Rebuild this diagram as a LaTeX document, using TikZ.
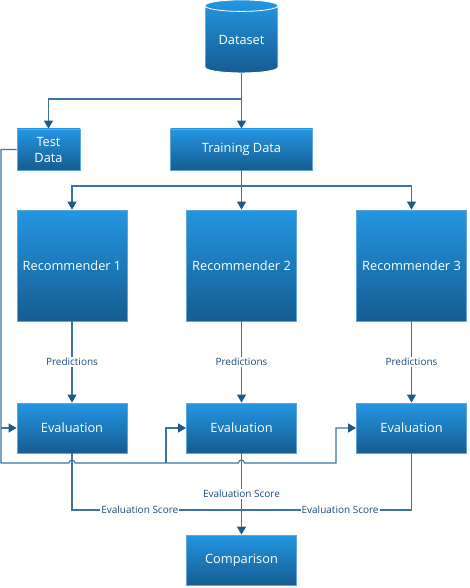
\documentclass[tikz,border=0pt]{standalone}
\usepackage{fontspec}
\setmainfont{Open Sans}
\usepackage{tikz}
\usetikzlibrary{shapes.geometric}
\usetikzlibrary{arrows.meta}
\definecolor{boxtop}{RGB}{36,150,226}
\definecolor{boxbot}{RGB}{22,92,145}
\definecolor{boxedge}{RGB}{95,165,220}
\definecolor{linecol}{RGB}{60,115,165}
\definecolor{arrcol}{RGB}{28,90,140}
\definecolor{txtcol}{RGB}{30,75,125}
\tikzset{
  box/.style={draw=boxedge, line width=0.8pt, top color=boxtop, bottom color=boxbot,
    text=white, font=\fontsize{12.8}{16}\selectfont, align=center, inner sep=0pt},
  conn/.style={draw=linecol, line width=1.1pt},
  arr/.style={conn, -{Triangle[width=9pt,length=8pt,color=arrcol]}},
  lbl/.style={fill=white, text=txtcol, font=\fontsize{10}{12}\selectfont, inner sep=1pt},
}

\begin{document}
\begin{tikzpicture}[x=1pt,y=-1pt]
\useasboundingbox (0,0) rectangle (469,588);
\node[box, cylinder, shape border rotate=90, aspect=0.25, draw=white,
  minimum width=73pt, minimum height=73pt] (data) at (241.5,39.5) {Dataset};
\node[box, minimum width=63pt, minimum height=41pt] (test) at (48.5,149.5) {Test\\Data};
\node[box, minimum width=142pt, minimum height=41pt] (train) at (241.5,149.5) {Training Data};
\node[box, minimum width=110pt, minimum height=50pt] (comp) at (241.5,560) {Comparison};

\foreach \i/\x in {1/72,2/241.5,3/411.5} {
  \node[box, minimum width=110pt, minimum height=111pt] (rec\i) at (\x,265.5) {Recommender \i};
  \node[box, minimum width=110pt, minimum height=50pt] (eval\i) at (\x,428) {Evaluation};
  \draw[arr] (rec\i) -- node[lbl] {Predictions} (eval\i);
}

% split of the dataset
\coordinate (fork) at (241.5,99);
\draw[arr] (data.south) -- (train.north);
\draw[arr] (fork) -| (test.north);

% training data to the recommenders
\coordinate (split) at (241.5,186);
\draw[arr] (train.south) -- (rec2.north);
\draw[arr] (split) -| (rec1.north);
\draw[arr] (split) -| (rec3.north);

% test data to the evaluations
\coordinate (busl) at (1,463);
\coordinate (j2) at (166,463);
\coordinate (j3) at (336,463);
\draw[arr] (test.west) -| (busl) -- (69,463) arc[start angle=180,end angle=360,radius=3]
  -- (238.5,463) arc[start angle=180,end angle=360,radius=3] -- (j3) |- (eval3.west);
\draw[arr] (busl |- eval1.west) -- (eval1.west);
\draw[arr] (j2) |- (eval2.west);

% scores to the comparison
\coordinate (m) at (241.5,510);
\draw[conn] (eval1.south) |- node[lbl, pos=0.7] {Evaluation Score} (m);
\draw[conn] (eval3.south) |- node[lbl, pos=0.71] {Evaluation Score} (m);
\draw[arr] (eval2.south) -- node[lbl] {Evaluation Score} (comp.north);
\end{tikzpicture}
\end{document}
